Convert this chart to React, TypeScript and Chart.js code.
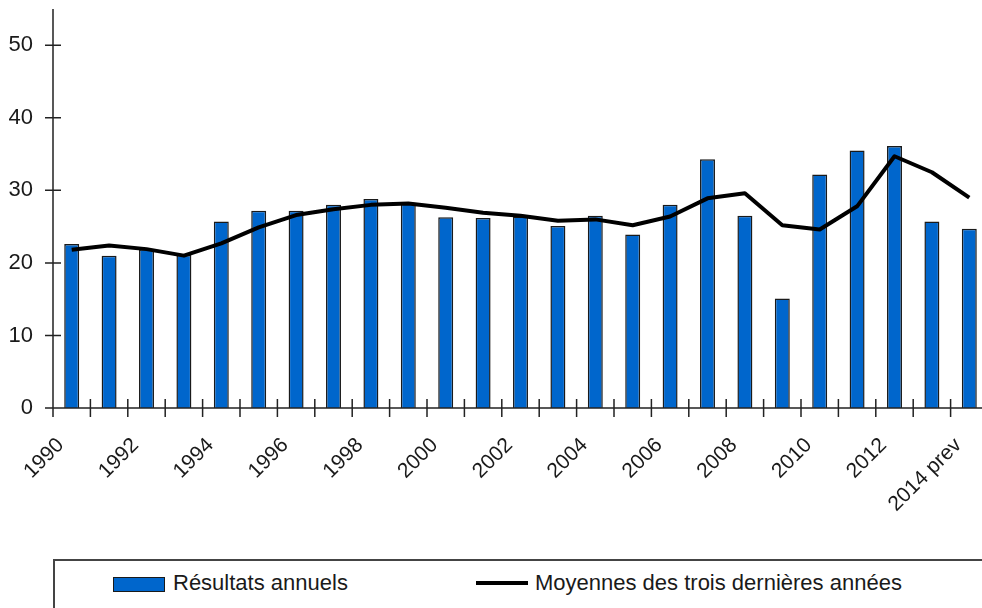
import React, { useEffect, useRef } from "react";
import { Chart, registerables } from "chart.js";

Chart.register(...registerables);

const categories = [
  "1990", "1991", "1992", "1993", "1994", "1995", "1996", "1997", "1998", "1999",
  "2000", "2001", "2002", "2003", "2004", "2005", "2006", "2007", "2008", "2009",
  "2010", "2011", "2012", "2013", "2014 prev",
];

const annualResults = [
  22.6, 21.0, 21.9, 21.1, 25.7, 27.2, 27.2, 28.0, 28.8, 28.3,
  26.3, 26.2, 26.4, 25.1, 26.5, 23.9, 28.0, 34.3, 26.5, 15.1,
  32.2, 35.5, 36.1, 25.7, 24.7,
];

const threeYearAverage = [
  21.8, 22.4, 21.9, 21.0, 22.7, 24.9, 26.6, 27.4, 28.0, 28.2,
  27.6, 26.9, 26.5, 25.8, 26.0, 25.2, 26.4, 28.9, 29.6, 25.2,
  24.6, 27.8, 34.7, 32.5, 29.0,
];

const yTickValues = [0, 10, 20, 30, 40, 50];

const seriesLabels = ["Résultats annuels", "Moyennes des trois dernières années"];

const BAR_BLUE = "#0066CC";
const DARK = "#1a1a1a";
const FONT = "'Liberation Sans', Arial, sans-serif";

const CANVAS_W = 988;
const CANVAS_H = 540;
const AXIS_LEFT = 53;
const AXIS_BOTTOM = 408;

const axesPlugin = {
  id: "crossAxes",
  afterDatasetsDraw(chart: any) {
    const { ctx, chartArea, scales } = chart;
    const x = scales.x;
    const y = scales.y;
    ctx.save();
    ctx.strokeStyle = "#222";
    ctx.lineWidth = 1.5;
    ctx.beginPath();
    ctx.moveTo(chartArea.left, chartArea.top);
    ctx.lineTo(chartArea.left, chartArea.bottom);
    ctx.lineTo(chartArea.right + 20, chartArea.bottom);
    for (const v of yTickValues) {
      const py = y.getPixelForValue(v);
      ctx.moveTo(chartArea.left - 8, py);
      ctx.lineTo(chartArea.left + 8, py);
    }
    const half = (x.getPixelForValue(1) - x.getPixelForValue(0)) / 2;
    for (let i = 0; i < categories.length; i++) {
      const px = x.getPixelForValue(i) - half;
      ctx.moveTo(px, chartArea.bottom - 9);
      ctx.lineTo(px, chartArea.bottom + 9);
    }
    ctx.stroke();
    ctx.restore();
  },
};

export default function App() {
  const canvasRef = useRef<HTMLCanvasElement | null>(null);

  useEffect(() => {
    const canvas = canvasRef.current;
    if (!canvas) return;
    const chart = new Chart(canvas, {
      type: "bar",
      data: {
        labels: categories,
        datasets: [
          {
            type: "line",
            label: seriesLabels[1],
            data: threeYearAverage,
            borderColor: "#000",
            borderWidth: 4,
            pointRadius: 0,
            tension: 0,
            borderJoinStyle: "round",
            order: 0,
          } as any,
          {
            type: "bar",
            label: seriesLabels[0],
            data: annualResults,
            backgroundColor: BAR_BLUE,
            borderColor: DARK,
            borderWidth: 1.5,
            barPercentage: 0.4,
            categoryPercentage: 1,
            order: 1,
          },
        ],
      },
      options: {
        responsive: false,
        animation: false,
        devicePixelRatio: 1,
        layout: { padding: { top: 9, left: 0, right: 0, bottom: 0 } },
        plugins: {
          legend: { display: false },
          tooltip: { enabled: false },
        },
        scales: {
          x: {
            grid: { display: false, drawTicks: false },
            border: { display: false },
            ticks: {
              autoSkip: false,
              maxRotation: 45,
              minRotation: 45,
              labelOffset: -11,
              padding: 25,
              color: DARK,
              font: { family: FONT, size: 21 },
              callback: (_v: any, i: number) => (i % 2 === 0 ? categories[i] : ""),
            },
            afterFit: (scale: any) => {
              scale.height = CANVAS_H - AXIS_BOTTOM;
              scale.paddingLeft = 0;
              scale.paddingRight = 0;
            },
          },
          y: {
            min: 0,
            max: 55,
            grid: { display: false, drawTicks: false },
            border: { display: false },
            ticks: {
              stepSize: 10,
              includeBounds: false,
              padding: 20,
              color: DARK,
              font: { family: FONT, size: 22 },
            },
            afterFit: (scale: any) => {
              scale.width = AXIS_LEFT;
              scale.paddingTop = 0;
              scale.paddingBottom = 0;
            },
          },
        },
      },
      plugins: [axesPlugin],
    });
    return () => chart.destroy();
  }, []);

  return (
    <div
      style={{
        position: "fixed",
        left: 0,
        top: 0,
        width: 982,
        height: 608,
        overflow: "hidden",
        background: "#fff",
        fontFamily: FONT,
      }}
    >
      <canvas
        ref={canvasRef}
        width={CANVAS_W}
        height={CANVAS_H}
        style={{ position: "absolute", left: 0, top: 0, width: CANVAS_W, height: CANVAS_H }}
      />
      <div
        style={{
          position: "absolute",
          left: 53,
          top: 559,
          width: 1000,
          height: 60,
          borderTop: "2px solid #444",
          borderLeft: "2px solid #444",
          boxSizing: "border-box",
        }}
      />
      <div
        style={{
          position: "absolute",
          left: 113,
          top: 577,
          width: 52,
          height: 15,
          background: BAR_BLUE,
          border: `1.5px solid ${DARK}`,
          boxSizing: "border-box",
        }}
      />
      <div
        style={{
          position: "absolute",
          left: 173,
          top: 569,
          fontSize: 22,
          lineHeight: "28px",
          color: DARK,
          whiteSpace: "nowrap",
        }}
      >
        {seriesLabels[0]}
      </div>
      <div
        style={{
          position: "absolute",
          left: 476,
          top: 581,
          width: 52,
          height: 4,
          background: "#000",
        }}
      />
      <div
        style={{
          position: "absolute",
          left: 535,
          top: 569,
          fontSize: 22,
          lineHeight: "28px",
          color: DARK,
          whiteSpace: "nowrap",
        }}
      >
        {seriesLabels[1]}
      </div>
    </div>
  );
}
